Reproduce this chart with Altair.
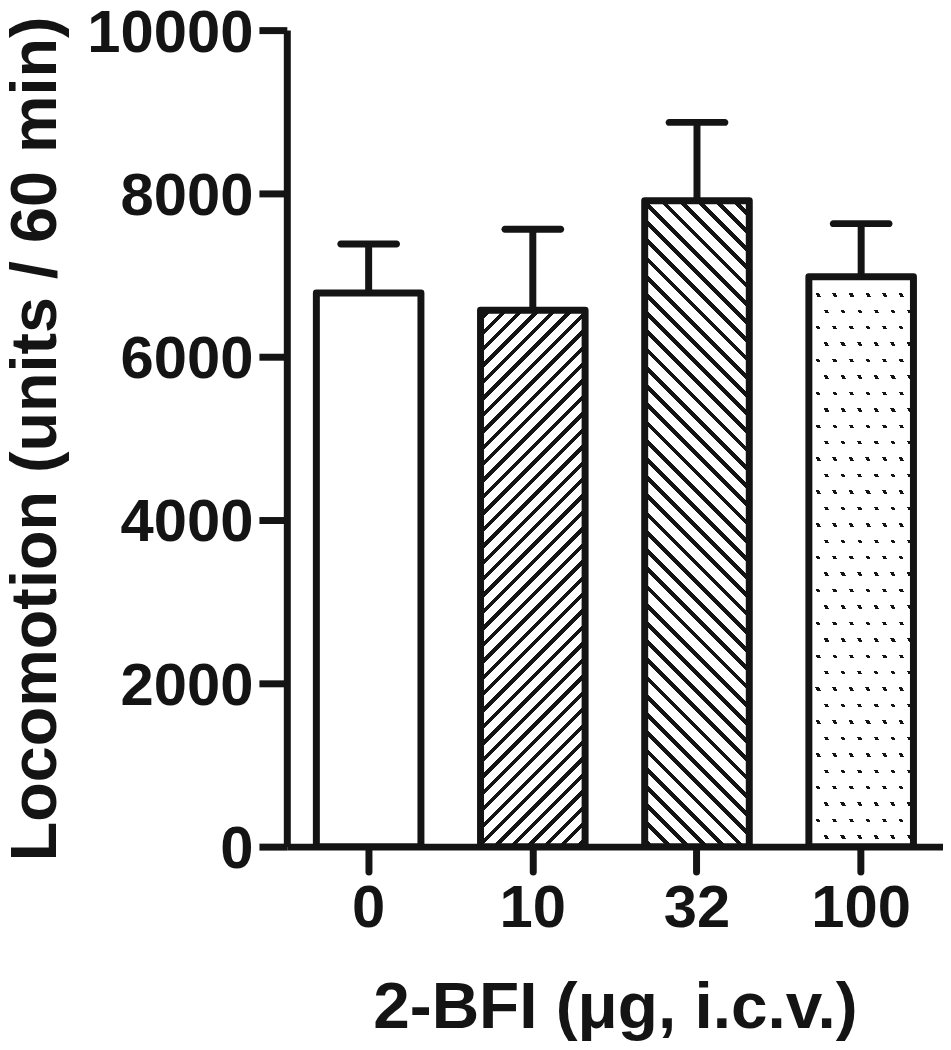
import altair as alt
import pandas as pd

# ---- data ----
doses = ["0", "10", "32", "100"]
means = [6780, 6570, 7910, 6980]
sems = [600, 990, 960, 650]
y_ticks = [0, 2000, 4000, 6000, 8000, 10000]

df = pd.DataFrame({"dose": doses, "mean": means, "sem": sems})

# ---- layout / style ----
W, H = 659, 820
YMAX = 10000
P_IN, P_OUT = 0.363, 0.18
INK = "#141414"
FONT = "Liberation Sans"
CLEAR = "rgba(255,255,255,0)"

step = W / (len(doses) - P_IN + 2 * P_OUT)
BW = step * (1 - P_IN)


def bar_px_height(dose):
    return means[doses.index(dose)] / YMAX * H


def stripe_stops(span, spacing, width, phase, line_color, bg_color):
    stops = []
    k = -1
    while True:
        a = (k * spacing + phase) / span
        b = a + width / span
        c = ((k + 1) * spacing + phase) / span
        for lo, hi, col in ((a, b, line_color), (b, c, bg_color)):
            lo2, hi2 = max(lo, 0.0), min(hi, 1.0)
            if hi2 > lo2:
                stops.append({"offset": round(lo2, 6), "color": col})
                stops.append({"offset": round(hi2, 6), "color": col})
        if c >= 1:
            break
        k += 1
    return stops


def slant_gradient(w, h, alpha, spacing, width, phase, line_color, bg_color):
    # lines x + alpha*y = const (pixel space), spacing measured horizontally
    span = w + abs(alpha) * h
    s = span * w / (w ** 2 + alpha ** 2 * h ** 2)
    if alpha >= 0:
        x1, y1, x2, y2 = 0, 0, s, alpha * s * h / w
    else:
        x1, y1, x2, y2 = 0, 1, s, 1 + alpha * s * h / w
    return {"gradient": "linear", "x1": x1, "y1": y1, "x2": x2, "y2": y2,
            "stops": stripe_stops(span, spacing, width, phase, line_color, bg_color)}


def row_gradient(h, spacing, width, phase, line_color, bg_color):
    return {"gradient": "linear", "x1": 0, "y1": 0, "x2": 0, "y2": 1,
            "stops": stripe_stops(h, spacing, width, phase, line_color, bg_color)}


x_enc = alt.X(
    "dose:N",
    sort=doses,
    scale=alt.Scale(paddingInner=P_IN, paddingOuter=P_OUT),
    axis=alt.Axis(
        title="2-BFI (μg, i.c.v.)",
        labelAngle=0,
        labelFont=FONT, labelFontSize=60, labelFontWeight="bold", labelColor=INK,
        labelPadding=8,
        tickSize=25, tickWidth=7, tickColor=INK, tickCap="round",
        domainWidth=7, domainColor=INK,
        titleFont=FONT, titleFontSize=66, titleFontWeight="bold", titleColor=INK,
        titleX=W / 2, titleY=182, titleBaseline="alphabetic", titleAlign="center",
        grid=False,
    ),
)
y_enc = alt.Y(
    "mean:Q",
    scale=alt.Scale(domain=[0, YMAX], nice=False),
    axis=alt.Axis(
        title="Locomotion (units / 60 min)",
        values=y_ticks, format="d",
        labelFont=FONT, labelFontSize=60, labelFontWeight="bold", labelColor=INK,
        labelPadding=6, labelOffset=3,
        tickSize=28, tickWidth=7, tickColor=INK,
        domainWidth=7, domainColor=INK,
        titleFont=FONT, titleFontSize=65, titleFontWeight="bold", titleColor=INK,
        titleX=-232, titleY=H / 2, titleBaseline="alphabetic", titleAlign="center",
        grid=False,
    ),
)

base = alt.Chart(df)

def one(d):
    return base.transform_filter(alt.datum.dose == d)

h10 = bar_px_height("10")
h32 = bar_px_height("32")
h100 = bar_px_height("100")

bar0 = one("0").mark_bar(fill="#ffffff").encode(x=x_enc, y=y_enc)
bar10 = one("10").mark_bar(
    fill=slant_gradient(BW, h10, 1.0, 16.5, 5.4, 6.0, INK, "#ffffff")
).encode(x=x_enc, y=y_enc)
bar32 = one("32").mark_bar(
    fill=slant_gradient(BW, h32, -1.0, 18.3, 5.8, 4.0, INK, "#ffffff")
).encode(x=x_enc, y=y_enc)
bar100_base = one("100").mark_bar(fill=INK).encode(x=x_enc, y=y_enc)
bar100_rows = one("100").mark_bar(
    fill=row_gradient(h100, 16.5, 3.4, 0.0, CLEAR, "#ffffff")
).encode(x=x_enc, y=y_enc)
bar100_cols = one("100").mark_bar(
    fill=slant_gradient(BW, h100, -0.506, 16.7, 3.6, 4.0, CLEAR, "#ffffff")
).encode(x=x_enc, y=y_enc)

outline = base.mark_bar(
    fillOpacity=0, stroke=INK, strokeWidth=7, strokeJoin="round"
).encode(x=x_enc, y=y_enc)

err = base.transform_calculate(upper="datum.mean + datum.sem").mark_rule(
    color=INK, strokeWidth=7
).encode(x=x_enc, y=alt.Y("mean:Q"), y2="upper:Q")

cap = base.transform_calculate(upper="datum.mean + datum.sem").mark_tick(
    color=INK, orient="horizontal", size=63, thickness=7, cornerRadius=3.5, opacity=1
).encode(x=x_enc, y=alt.Y("upper:Q"))

chart = alt.layer(
    bar0, bar10, bar32, bar100_base, bar100_rows, bar100_cols, outline, err, cap
).properties(
    width=W,
    height=H,
    autosize=alt.AutoSizeParams(type="none"),
    padding={"left": 280, "top": 20, "right": 0, "bottom": 194},
    background="#ffffff",
).configure_view(strokeWidth=0)

chart.save("out.html", embed_options={"renderer": "svg", "actions": False})
